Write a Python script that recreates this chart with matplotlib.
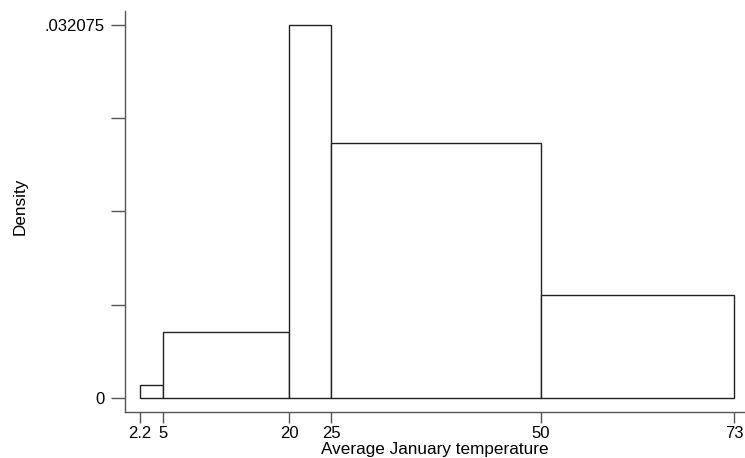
import numpy as np
import matplotlib.pyplot as plt

# bin edges and densities
edges = [2.2, 5, 20, 25, 50, 73]
density = [0.001123, 0.00573, 0.032075, 0.02193, 0.00884]
ymax = 0.032075
xticks = [2.2, 5, 20, 25, 50, 73]
xticklabels = ['2.2', '5', '20', '25', '50', '73']

plt.rcParams['font.family'] = ['Liberation Sans', 'DejaVu Sans']

fig = plt.figure(figsize=(7.45, 4.58), dpi=100)
ax = fig.add_axes([125 / 745, 1 - 411.7 / 458, 620 / 745, 400.7 / 458])

widths = np.diff(edges)
ax.bar(edges[:-1], density, width=widths, align='edge',
       facecolor='white', edgecolor='#222222', linewidth=1.0)

px = (734 - 140) / (73 - 2.2)
ax.set_xlim(2.2 - 15 / px, 2.2 + (745 - 140) / px)
py = (398.3 - 24.7) / ymax
ax.set_ylim(-13.4 / py, ymax + 13.7 / py)

for s in ['top', 'right']:
    ax.spines[s].set_visible(False)
for s in ['left', 'bottom']:
    ax.spines[s].set_color('#555555')
    ax.spines[s].set_linewidth(1.0)

ax.set_xticks(xticks)
ax.set_xticklabels(xticklabels)
yt = [0, ymax / 4, ymax / 2, 3 * ymax / 4, ymax]
ax.set_yticks(yt)
ax.set_yticklabels(['0', '', '', '', '.032075'])
ax.tick_params(axis='x', length=8, width=1, color='#555555', labelsize=12, pad=2)
ax.tick_params(axis='y', length=10, width=1, color='#555555', labelsize=12, pad=5)

ax.set_xlabel('Average January temperature', fontsize=12.3, labelpad=1)
ax.set_ylabel('Density', fontsize=12.3)
ax.yaxis.set_label_coords(-97 / 620, 0.513)

fig.savefig('out.png', dpi=100)
